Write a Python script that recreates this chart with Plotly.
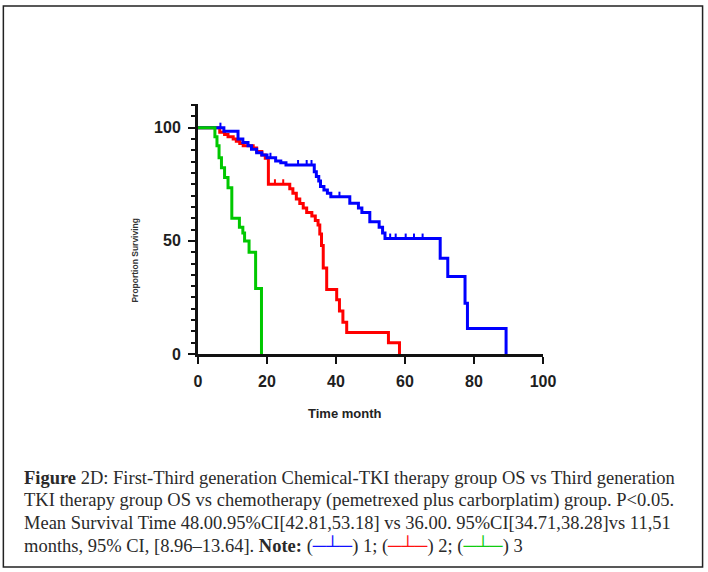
import plotly.graph_objects as go

# ---------------- data ----------------
# Group 1 (blue): event times (months) and survival (%) after each step
blue_t = [0, 7.5, 11.6, 13.0, 14.5, 15.5, 17.0, 18.5, 20.0, 22.5, 24.0, 25.5,
          33.7, 34.3, 35.0, 35.5, 36.5, 37.5, 38.5, 44.0, 46.5, 47.5, 49.8,
          52.5, 53.5, 54.2, 70.2, 72.4, 77.4, 78.1, 89.3]
blue_s = [100, 98.5, 95, 93.5, 92, 90.5, 89, 88, 86.7, 85.3, 84.5, 83.5,
          80.5, 78.5, 76.5, 74, 72.5, 71, 69.5, 66.6, 64.5, 62.5, 58.5,
          56, 53.5, 51, 42.3, 34.2, 22.4, 11.3, 0]
blue_censor = [6.5, 21.0, 29.0, 31.5, 32.9, 41.0, 55.7, 57.3, 60.2, 62.6, 65.1]

# Group 2 (red)
red_t = [0, 6.3, 7.7, 8.7, 10.2, 11.1, 12.1, 13.1, 16.0, 17.0, 18.5, 19.5,
         20.4, 26.6, 27.5, 28.5, 29.5, 30.5, 31.5, 33.0, 34.0, 34.8, 35.3,
         35.8, 36.3, 37.3, 40.2, 41.0, 42.0, 43.1, 55.2, 58.4]
red_s = [100, 98, 97, 96, 95, 94, 93, 92, 91, 89.5, 88, 86.5,
         75, 73, 71, 68.5, 66.5, 64.5, 62.5, 61, 59, 57, 53,
         48, 38, 28.5, 24, 19, 14, 9.5, 5, 0]
red_censor = [22.3, 24.7]

# Group 3 (green)
green_t = [0, 4.9, 5.5, 6.1, 6.8, 7.7, 8.7, 9.8, 12.0, 13.0, 13.5, 14.8, 16.7, 18.4]
green_s = [100, 96, 92, 86.7, 82.3, 78, 73.5, 60, 56, 53.5, 50, 45, 29, 0]

x_ticks = [0, 20, 40, 60, 80, 100]
y_ticks = [0, 50, 100]

caption_lines = [
    "<b>Figure</b> 2D: First-Third generation Chemical-TKI therapy group OS vs Third generation",
    "TKI therapy group OS vs chemotherapy (pemetrexed plus carborplatim) group. P<0.05.",
    "Mean Survival Time 48.00.95%CI[42.81,53.18] vs 36.00. 95%CI[34.71,38.28]vs 11,51",
    "months, 95% CI, [8.96\u201313.64]. <b>Note:</b> (<span style='color:#1010ff'>\u2500\u2534\u2500</span>) 1; "
    "(<span style='color:#ff1010'>\u2500\u2534\u2500</span>) 2; (<span style='color:#10cc10'>\u2500\u2534\u2500</span>) 3",
]

# ---------------- layout geometry (pixels) ----------------
W, H = 708, 572
PL, PR, PT, PB = 198.3, 542.7, 104.0, 354.0   # plot area
X_MAX, Y_MAX = 100, 110.5


def px_to_paper(px, py):
    return (px - PL) / (PR - PL), (PB - py) / (PB - PT)


def step_value(ts, ss, t):
    v = ss[0]
    for ti, si in zip(ts, ss):
        if ti <= t:
            v = si
    return v


fig = go.Figure()

series = [
    (red_t, red_s, red_censor, "#ff0000"),
    (blue_t, blue_s, blue_censor, "#0000ff"),
    (green_t, green_s, [], "#00c800"),
]
for ts, ss, cens, col in series:
    fig.add_trace(go.Scatter(x=ts, y=ss, mode="lines", line=dict(color=col, width=3, shape="hv"),
                             showlegend=False, hoverinfo="skip"))
    if cens:
        fig.add_trace(go.Scatter(x=cens, y=[step_value(ts, ss, c) + 1.0 for c in cens], mode="markers",
                                 marker=dict(symbol="line-ns", size=4, line=dict(color=col, width=2)),
                                 showlegend=False, hoverinfo="skip"))

tickfont = dict(family="Liberation Sans", size=16, color="#1e1e1e", weight="bold")

fig.update_xaxes(range=[0, X_MAX], tickvals=x_ticks, showgrid=False, zeroline=False,
                 showline=True, linecolor="#111", linewidth=3,
                 ticks="outside", ticklen=7, tickwidth=2.5, tickcolor="#111",
                 tickfont=tickfont, ticklabelstandoff=4)
fig.update_yaxes(range=[0, Y_MAX], tickvals=y_ticks, showgrid=False, zeroline=False,
                 showline=True, linecolor="#111", linewidth=3,
                 ticks="outside", ticklen=7, tickwidth=2.5, tickcolor="#111",
                 minor=dict(dtick=5, ticks="outside", ticklen=4, tickwidth=2, tickcolor="#111"),
                 tickfont=tickfont, ticklabelstandoff=4)

ann = []
# axis titles
ax, ay = px_to_paper(345, 413)
ann.append(dict(text="Time month", x=ax, y=ay, xref="paper", yref="paper", showarrow=False,
                xanchor="center", yanchor="middle",
                font=dict(family="Liberation Sans", size=13, color="#222", weight="bold")))
ax, ay = px_to_paper(135, 260)
ann.append(dict(text="Proportion Surviving", x=ax, y=ay, xref="paper", yref="paper", showarrow=False,
                textangle=-90, xanchor="center", yanchor="middle",
                font=dict(family="Liberation Sans", size=8.5, color="#333", weight="bold")))
# caption
line_y = [478, 500.5, 523, 545.5]
for txt, yy in zip(caption_lines, line_y):
    ax, ay = px_to_paper(23, yy)
    ann.append(dict(text=txt, x=ax, y=ay, xref="paper", yref="paper", showarrow=False,
                    xanchor="left", yanchor="middle", align="left",
                    font=dict(family="Liberation Serif", size=18.5, color="#2a2a2a")))

x0, y0 = px_to_paper(4, 567)
x1, y1 = px_to_paper(702, 6)
fig.add_shape(type="rect", xref="paper", yref="paper", x0=x0, y0=y0, x1=x1, y1=y1,
              line=dict(color="#222", width=1.5), fillcolor="rgba(0,0,0,0)", layer="below")

fig.update_layout(width=W, height=H, margin=dict(l=PL, r=W - PR, t=PT, b=H - PB, pad=0),
                  paper_bgcolor="white", plot_bgcolor="white", annotations=ann)

fig.write_html("out.html", config={"displayModeBar": False, "staticPlot": True},
               post_script="document.body.style.margin='0';document.body.style.overflow='hidden';")
